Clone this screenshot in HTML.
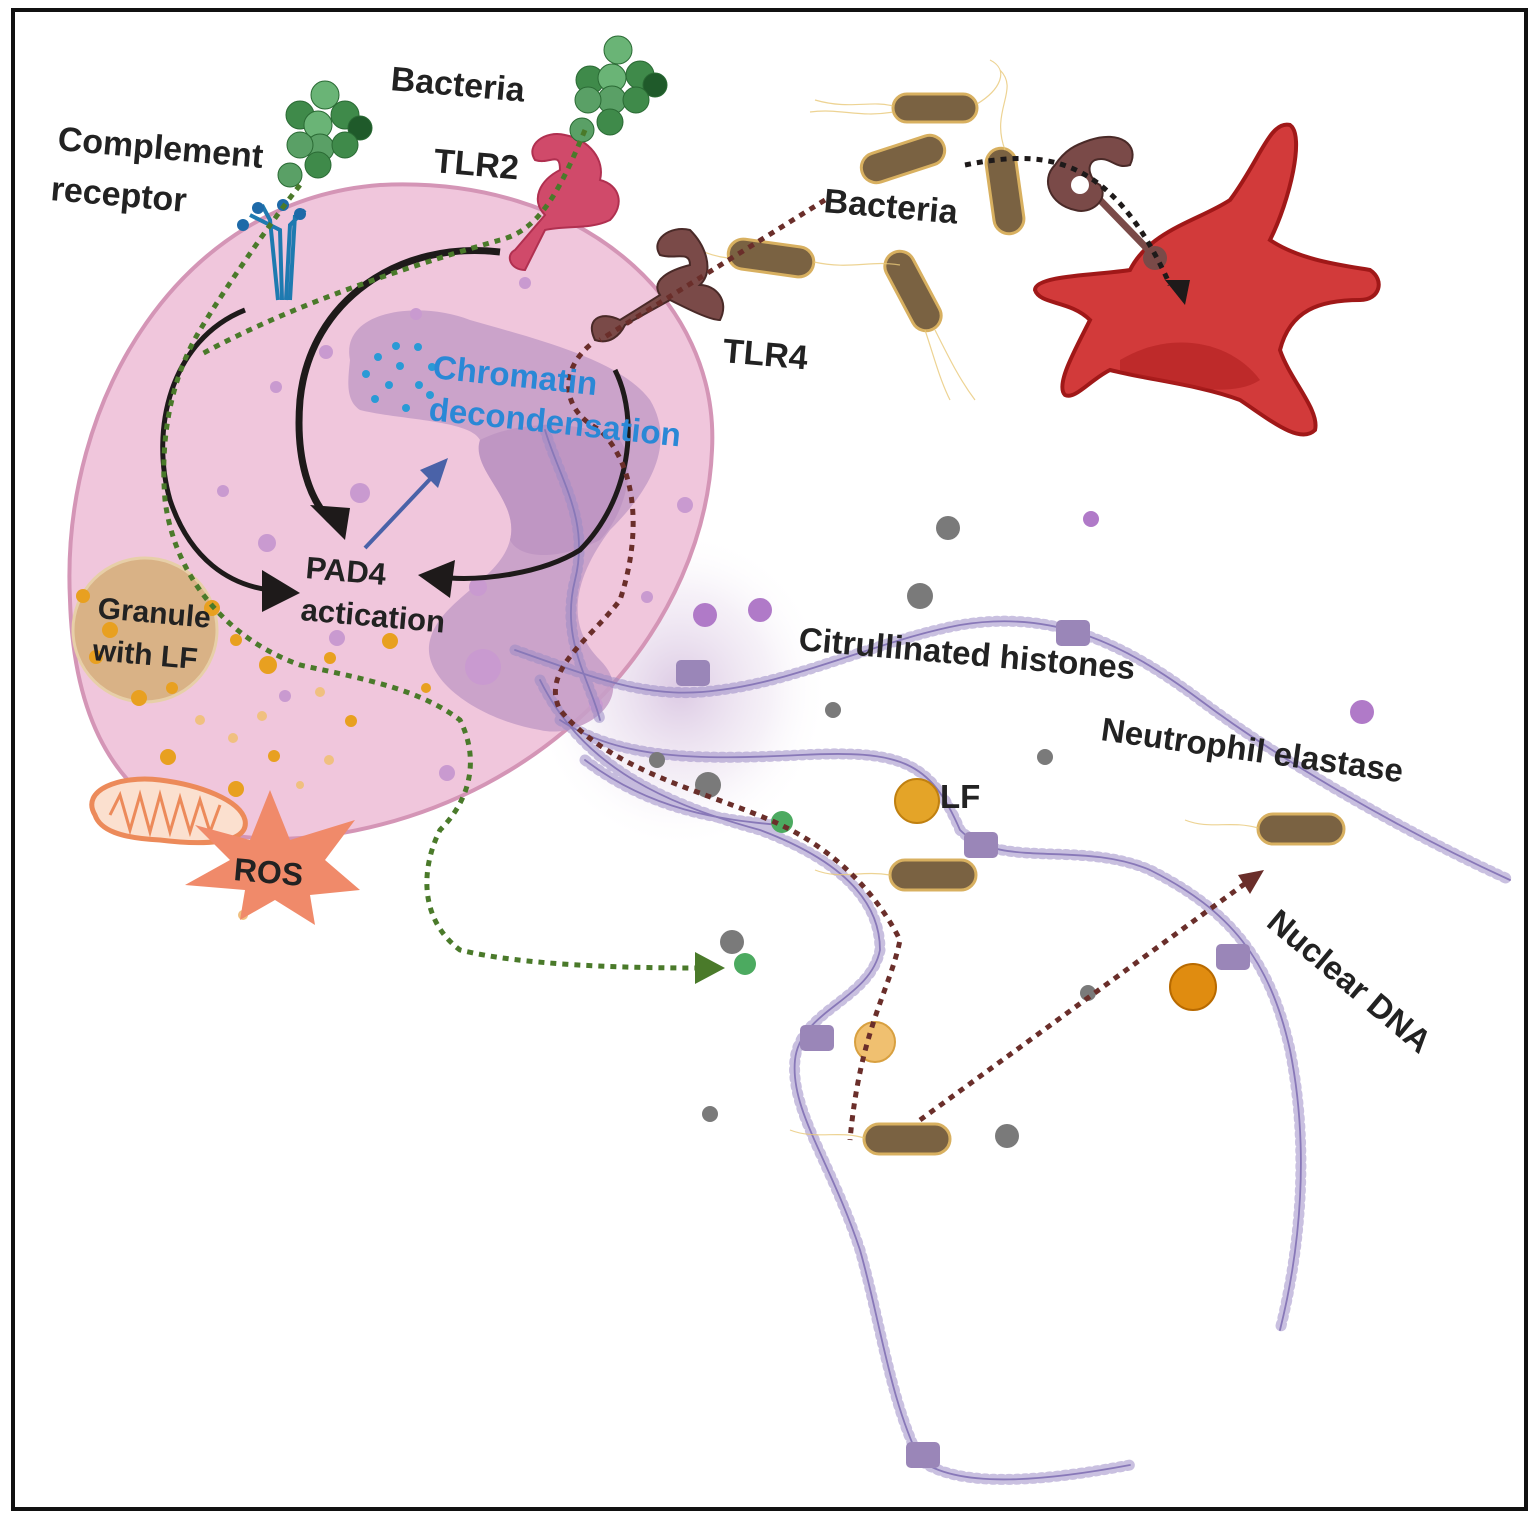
<!DOCTYPE html>
<html><head><meta charset="utf-8"><style>
html,body{margin:0;padding:0;background:#fff}
svg{display:block}
text{font-family:"Liberation Sans",sans-serif;font-weight:bold;fill:#222}
</style></head><body>
<svg width="1535" height="1519" viewBox="0 0 1535 1519" xmlns="http://www.w3.org/2000/svg">
<defs>
<radialGradient id="glow" cx="0.5" cy="0.5" r="0.5">
<stop offset="0" stop-color="#cdb3d8" stop-opacity="0.7"/>
<stop offset="0.6" stop-color="#e4d6ea" stop-opacity="0.35"/>
<stop offset="1" stop-color="#fff" stop-opacity="0"/>
</radialGradient>
</defs>
<rect x="13" y="10" width="1513" height="1499" fill="#fff" stroke="#111" stroke-width="4"/>

<ellipse cx="680" cy="690" rx="150" ry="160" fill="url(#glow)"/>

<!-- cell -->
<path d="M70,600 C60,400 180,200 380,185 C580,175 720,300 712,450 C705,620 560,800 330,835 C150,860 75,760 70,600Z" fill="#f0c6dc" stroke="#d495b6" stroke-width="4"/>
<!-- nucleus -->
<path d="M350,360 C340,310 420,300 470,320 C540,340 620,360 650,400 C680,450 640,500 610,530 C580,570 560,620 600,660 C640,700 580,740 540,730 C480,720 420,680 430,640 C440,600 500,580 510,540 C520,500 470,470 480,440 C470,420 400,420 360,410 C345,400 348,380 350,360Z" fill="#c79ec8" opacity="0.9"/>
<path d="M480,440 C520,420 580,420 620,440 C640,470 620,520 600,540 C560,560 520,560 510,540 C520,500 470,470 480,440Z" fill="#b990c0" opacity="0.7"/>

<g fill="#c99ad0">
<circle cx="525" cy="283" r="6"/><circle cx="416" cy="314" r="6"/><circle cx="326" cy="352" r="7"/><circle cx="276" cy="387" r="6"/><circle cx="223" cy="491" r="6"/><circle cx="360" cy="493" r="10"/><circle cx="267" cy="543" r="9"/><circle cx="685" cy="505" r="8"/><circle cx="478" cy="587" r="9"/><circle cx="337" cy="638" r="8"/><circle cx="285" cy="696" r="6"/><circle cx="447" cy="773" r="8"/><circle cx="483" cy="667" r="18"/><circle cx="647" cy="597" r="6"/><circle cx="596" cy="705" r="7"/>
</g>

<circle cx="145" cy="630" r="72" fill="#d9b286" stroke="#e7cfa8" stroke-width="3"/>
<g fill="#e8a020">
<circle cx="83" cy="596" r="7"/><circle cx="212" cy="608" r="8"/><circle cx="110" cy="630" r="8"/><circle cx="96" cy="657" r="7"/><circle cx="139" cy="698" r="8"/><circle cx="268" cy="665" r="9"/><circle cx="236" cy="640" r="6"/><circle cx="330" cy="658" r="6"/><circle cx="390" cy="641" r="8"/><circle cx="168" cy="757" r="8"/><circle cx="236" cy="789" r="8"/><circle cx="351" cy="721" r="6"/><circle cx="274" cy="756" r="6"/><circle cx="426" cy="688" r="5"/><circle cx="172" cy="688" r="6"/>
</g>
<g fill="#f0c080"><circle cx="200" cy="720" r="5"/><circle cx="262" cy="716" r="5"/><circle cx="320" cy="692" r="5"/><circle cx="233" cy="738" r="5"/><circle cx="300" cy="785" r="4"/><circle cx="329" cy="760" r="5"/><circle cx="243" cy="915" r="5"/></g>

<path d="M95,815 C80,790 120,775 160,780 C200,785 240,800 245,820 C250,845 200,845 160,840 C120,838 100,830 95,815Z" fill="#fbe0cf" stroke="#ec8a5a" stroke-width="5"/>
<path d="M110,815 L120,795 L130,830 L140,795 L150,832 L160,795 L170,832 L180,798 L190,832 L200,800 L210,832 L220,805" fill="none" stroke="#ec8a5a" stroke-width="3"/>
<polygon points="270,790 290,840 355,820 325,860 360,890 310,895 315,925 275,900 240,920 245,890 185,885 230,860 195,825 250,840" fill="#f08a6a"/>

<g fill="#2a9ad6"><circle cx="378" cy="357" r="4"/><circle cx="396" cy="346" r="4"/><circle cx="418" cy="347" r="4"/><circle cx="366" cy="374" r="4"/><circle cx="400" cy="366" r="4"/><circle cx="419" cy="385" r="4"/><circle cx="375" cy="399" r="4"/><circle cx="389" cy="385" r="4"/><circle cx="406" cy="408" r="4"/><circle cx="432" cy="367" r="4"/><circle cx="430" cy="395" r="4"/></g>

<!-- DNA strands -->
<g fill="none" stroke-linecap="round">
<g stroke="#9c8cc6" stroke-width="11" stroke-dasharray="2 6" opacity="0.55">
<path d="M515,650 C600,680 650,700 720,690 C800,680 880,640 960,625 C1050,610 1120,640 1200,700 C1280,760 1400,830 1510,880"/>
<path d="M560,720 C620,760 700,760 800,755 C900,750 930,760 960,830 C1000,870 1080,840 1150,870 C1230,910 1270,960 1290,1050 C1310,1150 1300,1250 1280,1330"/>
<path d="M540,680 C580,760 650,800 760,830 C840,860 880,900 880,950 C870,1000 800,1010 795,1060 C790,1110 830,1160 860,1250 C880,1320 890,1400 920,1460 C960,1490 1050,1480 1130,1465"/>
<path d="M545,430 C560,480 590,520 575,580 C560,640 590,680 600,720"/>
<path d="M585,760 C650,810 720,820 780,825"/>
</g>
<g stroke="#8878b8" stroke-width="1.8">
<path d="M515,650 C600,680 650,700 720,690 C800,680 880,640 960,625 C1050,610 1120,640 1200,700 C1280,760 1400,830 1510,880"/>
<path d="M560,720 C620,760 700,760 800,755 C900,750 930,760 960,830 C1000,870 1080,840 1150,870 C1230,910 1270,960 1290,1050 C1310,1150 1300,1250 1280,1330"/>
<path d="M540,680 C580,760 650,800 760,830 C840,860 880,900 880,950 C870,1000 800,1010 795,1060 C790,1110 830,1160 860,1250 C880,1320 890,1400 920,1460 C960,1490 1050,1480 1130,1465"/>
<path d="M545,430 C560,480 590,520 575,580 C560,640 590,680 600,720"/>
<path d="M585,760 C650,810 720,820 780,825"/>
</g>
</g>
<g fill="#9a86b8"><rect x="676" y="660" width="34" height="26" rx="5"/><rect x="1056" y="620" width="34" height="26" rx="5"/><rect x="964" y="832" width="34" height="26" rx="5"/><rect x="1216" y="944" width="34" height="26" rx="5"/><rect x="800" y="1025" width="34" height="26" rx="5"/><rect x="906" y="1442" width="34" height="26" rx="5"/></g>

<g fill="#7a7a7a"><circle cx="948" cy="528" r="12"/><circle cx="920" cy="596" r="13"/><circle cx="833" cy="710" r="8"/><circle cx="1045" cy="757" r="8"/><circle cx="708" cy="785" r="13"/><circle cx="657" cy="760" r="8"/><circle cx="732" cy="942" r="12"/><circle cx="1088" cy="993" r="8"/><circle cx="710" cy="1114" r="8"/><circle cx="1007" cy="1136" r="12"/></g>
<g fill="#b07ac8"><circle cx="1091" cy="519" r="8"/><circle cx="705" cy="615" r="12"/><circle cx="760" cy="610" r="12"/><circle cx="1362" cy="712" r="12"/></g>
<g fill="#4caa60"><circle cx="782" cy="822" r="11"/><circle cx="745" cy="964" r="11"/></g>
<circle cx="917" cy="801" r="22" fill="#e4a428" stroke="#c08010" stroke-width="2"/>
<circle cx="1193" cy="987" r="23" fill="#e08c10" stroke="#b86a00" stroke-width="2"/>
<circle cx="875" cy="1042" r="20" fill="#f0c070" stroke="#d8a040" stroke-width="2"/>

<!-- bacteria rods -->
<g fill="#7a6242" stroke="#d8b060" stroke-width="3">
<rect x="893" y="94" width="84" height="28" rx="14"/>
<rect x="860" y="144" width="86" height="30" rx="15" transform="rotate(-18 903 159)"/>
<rect x="990" y="148" width="30" height="86" rx="15" transform="rotate(-8 1005 191)"/>
<rect x="728" y="243" width="86" height="30" rx="15" transform="rotate(8 771 258)"/>
<rect x="870" y="276" width="86" height="30" rx="15" transform="rotate(62 913 291)"/>
<rect x="890" y="860" width="86" height="30" rx="15"/>
<rect x="1258" y="814" width="86" height="30" rx="15"/>
<rect x="864" y="1124" width="86" height="30" rx="15"/>
</g>
<g fill="none" stroke="#e8c878" stroke-width="1.2" opacity="0.8">
<path d="M893,106 C870,100 850,110 815,100 M893,112 C860,118 840,108 810,112 M977,104 C1000,90 1010,70 990,60 M1005,150 C990,110 1020,90 1000,70"/>
<path d="M728,258 C700,255 690,240 665,245 M814,262 C850,270 870,260 900,265 M935,330 C950,360 960,380 975,400 M925,330 C935,360 940,380 950,400"/>
<path d="M890,875 C860,870 840,880 815,870 M1258,828 C1230,820 1210,830 1185,820 M864,1138 C840,1130 815,1140 790,1130"/>
</g>

<!-- red dendritic cell -->
<path d="M1035,290 C1035,275 1100,275 1130,270 C1150,230 1200,220 1230,200 C1260,160 1270,120 1290,125 C1305,135 1290,200 1270,240 C1300,260 1340,265 1370,270 C1385,280 1380,300 1360,300 C1320,300 1290,310 1280,350 C1290,380 1320,410 1315,430 C1300,445 1270,420 1240,400 C1200,385 1150,380 1110,370 C1090,380 1075,400 1065,395 C1055,385 1075,350 1090,320 C1070,300 1040,305 1035,290Z" fill="#d23a3a" stroke="#a01818" stroke-width="4"/>
<path d="M1120,360 C1170,330 1230,340 1260,380 C1230,400 1170,385 1120,370Z" fill="#b02020" opacity="0.6"/>

<!-- DC receptor -->
<line x1="1100" y1="200" x2="1160" y2="262" stroke="#7a4a48" stroke-width="7"/>
<circle cx="1155" cy="258" r="12" fill="#7a4a48"/>
<path d="M1090,140 C1120,130 1140,145 1130,165 C1115,170 1110,155 1095,160 C1085,165 1090,180 1100,185 C1110,200 1090,215 1075,210 C1050,205 1040,180 1055,165 C1065,150 1075,145 1090,140Z" fill="#7a4a48" stroke="#4a2a28" stroke-width="2"/>
<circle cx="1080" cy="185" r="9" fill="#fff"/>

<!-- TLR4 -->
<path d="M690,230 C670,225 650,240 660,255 C675,260 690,250 690,265 C670,270 650,280 660,295 L620,320 C600,310 585,320 595,340 C610,345 620,335 625,325 L670,300 C690,310 710,320 720,320 C730,300 715,285 700,285 C715,270 705,245 690,230Z" fill="#7a4a48" stroke="#4a2a28" stroke-width="2"/>
<!-- TLR2 -->
<path d="M565,135 C545,130 525,145 535,160 C550,165 560,150 560,170 C540,180 530,200 545,215 L515,250 C505,255 510,270 525,270 L545,230 C565,225 590,230 610,220 C625,205 620,185 600,180 C605,160 590,140 565,135Z" fill="#d04a6a" stroke="#b03050" stroke-width="2"/>
<g stroke="#1e7ab0" stroke-width="4" fill="none"><path d="M282,300 L280,230 L250,215 M286,300 L290,225 L305,210 M278,300 L270,220 L262,205 M290,300 L295,215"/></g>
<g fill="#1e6aa8"><circle cx="243" cy="225" r="6"/><circle cx="258" cy="208" r="6"/><circle cx="283" cy="205" r="6"/><circle cx="300" cy="214" r="6"/></g>

<g fill="#3f8a4a" stroke="#2a6a34" stroke-width="1">
<circle cx="290" cy="175" r="12" fill="#5aa066"/><circle cx="300" cy="115" r="14"/><circle cx="325" cy="95" r="14" fill="#6ab476"/><circle cx="345" cy="115" r="14"/><circle cx="360" cy="128" r="12" fill="#1f5a2a"/><circle cx="318" cy="125" r="14" fill="#6ab476"/><circle cx="320" cy="148" r="14" fill="#5aa066"/><circle cx="345" cy="145" r="13"/><circle cx="300" cy="145" r="13" fill="#5aa066"/><circle cx="318" cy="165" r="13"/>
<circle cx="582" cy="130" r="12" fill="#5aa066"/><circle cx="590" cy="80" r="14"/><circle cx="618" cy="50" r="14" fill="#6ab476"/><circle cx="640" cy="75" r="14"/><circle cx="655" cy="85" r="12" fill="#1f5a2a"/><circle cx="612" cy="78" r="14" fill="#6ab476"/><circle cx="612" cy="100" r="14" fill="#5aa066"/><circle cx="636" cy="100" r="13"/><circle cx="588" cy="100" r="13" fill="#5aa066"/><circle cx="610" cy="122" r="13"/>
</g>

<g fill="none" stroke="#1e1a1a">
<path d="M245,310 C170,340 150,430 170,500 C190,560 230,585 270,590" stroke-width="5"/>
<path d="M500,252 C400,240 310,300 300,400 C295,460 310,500 330,520" stroke-width="7"/>
<path d="M615,370 C640,420 630,500 580,550 C540,575 480,580 450,578" stroke-width="5"/>
</g>
<polygon points="262,570 300,593 262,612" fill="#1e1a1a"/>
<polygon points="310,505 350,508 345,540" fill="#1e1a1a"/>
<polygon points="455,560 418,575 450,598" fill="#1e1a1a"/>
<line x1="365" y1="548" x2="432" y2="477" stroke="#4a62a8" stroke-width="4"/>
<polygon points="448,458 420,470 438,488" fill="#4a62a8"/>

<g fill="none" stroke="#4a7a2a" stroke-width="5" stroke-dasharray="6 6">
<path d="M585,130 C560,190 540,230 500,240 C430,260 300,300 200,355"/>
<path d="M300,185 C280,210 230,280 200,330 C170,380 160,440 165,500 C175,580 230,640 300,665 C370,680 420,690 460,720 C480,760 470,800 440,830 C420,870 420,920 460,950 C520,965 620,968 700,968"/>
</g>
<polygon points="695,952 725,968 695,984" fill="#4a7a2a"/>

<g fill="none" stroke="#6a2e2a" stroke-width="5" stroke-dasharray="6 6">
<path d="M825,200 L600,340"/>
<path d="M590,345 C560,370 560,410 600,430 C640,470 640,540 620,600 C590,640 540,670 560,710 C610,770 700,790 770,820 C840,850 880,900 900,940 C890,990 860,1030 850,1140"/>
<path d="M920,1120 L1250,880"/>
</g>
<polygon points="1264,870 1238,875 1250,894" fill="#6a2e2a"/>
<path d="M965,165 C1040,150 1110,150 1170,285" fill="none" stroke="#1e1a1a" stroke-width="5" stroke-dasharray="6 6"/>
<polygon points="1165,280 1190,280 1185,305" fill="#1e1a1a"/>

<text x="57" y="150" font-size="34" transform="rotate(5 57 150)">Complement</text>
<text x="50" y="200" font-size="34" transform="rotate(5 50 200)">receptor</text>
<text x="390" y="90" font-size="34" transform="rotate(5 390 90)">Bacteria</text>
<text x="433" y="172" font-size="34" transform="rotate(5 433 172)">TLR2</text>
<text x="823" y="212" font-size="34" transform="rotate(5 823 212)">Bacteria</text>
<text x="722" y="362" font-size="34" transform="rotate(5 722 362)">TLR4</text>
<text x="432" y="378" font-size="33" style="fill:#2a88d6" transform="rotate(6 432 378)">Chromatin</text>
<text x="428" y="420" font-size="33" style="fill:#2a88d6" transform="rotate(6 428 420)">decondensation</text>
<text x="305" y="578" font-size="31" transform="rotate(5 305 578)">PAD4</text>
<text x="300" y="620" font-size="31" transform="rotate(5 300 620)">actication</text>
<text x="97" y="618" font-size="30" transform="rotate(5 97 618)">Granule</text>
<text x="92" y="660" font-size="30" transform="rotate(5 92 660)">with LF</text>
<text x="233" y="880" font-size="32" transform="rotate(5 233 880)">ROS</text>
<text x="798" y="650" font-size="33" transform="rotate(5 798 650)">Citrullinated histones</text>
<text x="1100" y="740" font-size="33" transform="rotate(8 1100 740)">Neutrophil elastase</text>
<text x="940" y="808" font-size="33">LF</text>
<text x="1265" y="925" font-size="33" transform="rotate(40 1265 925)">Nuclear DNA</text>
</svg>
</body></html>
